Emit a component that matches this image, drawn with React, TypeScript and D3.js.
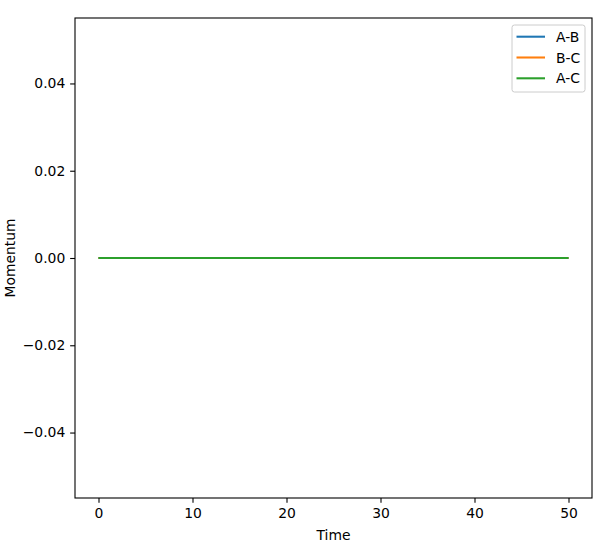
// App.tsx
import * as d3 from "d3";
import { useEffect, useRef } from "react";

const time = [0, 10, 20, 30, 40, 50];
const momentumAB = [0, 0, 0, 0, 0, 0];
const momentumBC = [0, 0, 0, 0, 0, 0];
const momentumAC = [0, 0, 0, 0, 0, 0];
const seriesNames = ["A-B", "B-C", "A-C"];
const xTicks = [0, 10, 20, 30, 40, 50];
const yTicks = [-0.04, -0.02, 0, 0.02, 0.04];

const colors = ["#1f77b4", "#ff7f0e", "#2ca02c"];
const font = "'DejaVu Sans', sans-serif";

export default function App() {
  const ref = useRef<SVGSVGElement | null>(null);

  useEffect(() => {
    const svg = d3.select(ref.current);
    svg.selectAll("*").remove();

    const W = 614;
    const H = 555;
    const margin = { top: 18, right: 22, bottom: 57, left: 75 };
    const width = W - margin.left - margin.right;
    const height = H - margin.top - margin.bottom;
    const tick = 4.86;
    const fs = 13.9;

    svg.attr("width", W).attr("height", H);
    svg.append("rect").attr("width", W).attr("height", H).attr("fill", "white");

    const g = svg.append("g").attr("transform", `translate(${margin.left},${margin.top})`);

    const x = d3.scaleLinear().domain([-2.5, 52.5]).range([0, width]);
    const y = d3.scaleLinear().domain([-0.055, 0.055]).range([height, 0]);

    const xAxis = d3
      .axisBottom(x)
      .tickValues(xTicks)
      .tickSizeInner(tick)
      .tickSizeOuter(0)
      .tickPadding(tick)
      .tickFormat((d) => d3.format("d")(d as number));
    const yAxis = d3
      .axisLeft(y)
      .tickValues(yTicks)
      .tickSizeInner(tick)
      .tickSizeOuter(0)
      .tickPadding(tick)
      .tickFormat((d) => d3.format(".2f")(d as number).replace("-", "\u2212"));

    const gx = g.append("g").attr("transform", `translate(0,${height})`).call(xAxis);
    const gy = g.append("g").call(yAxis);
    [gx, gy].forEach((ax) => {
      ax.select(".domain").remove();
      ax.selectAll("line").attr("stroke", "black").attr("stroke-width", 1.1);
      ax.selectAll("text")
        .attr("fill", "black")
        .style("font-family", font)
        .style("font-size", `${fs}px`);
    });

    const series = [momentumAB, momentumBC, momentumAC];
    const line = d3
      .line<number>()
      .x((_, i) => x(time[i]))
      .y((d) => y(d));

    series.forEach((vals, i) => {
      g.append("path")
        .datum(vals)
        .attr("fill", "none")
        .attr("stroke", colors[i])
        .attr("stroke-width", 2.08)
        .attr("d", line);
    });

    // frame
    g.append("rect")
      .attr("width", width)
      .attr("height", height)
      .attr("fill", "none")
      .attr("stroke", "black")
      .attr("stroke-width", 1.1);

    // axis labels
    svg
      .append("text")
      .attr("x", margin.left + width / 2)
      .attr("y", 540)
      .attr("text-anchor", "middle")
      .style("font-family", font)
      .style("font-size", `${fs}px`)
      .text("Time");
    svg
      .append("text")
      .attr("transform", `translate(14.5,${margin.top + height / 2}) rotate(-90)`)
      .attr("text-anchor", "middle")
      .style("font-family", font)
      .style("font-size", `${fs}px`)
      .text("Momentum");

    // legend
    const leg = svg.append("g").attr("transform", "translate(512,25)");
    leg
      .append("rect")
      .attr("width", 73)
      .attr("height", 67)
      .attr("rx", 2.5)
      .attr("fill", "white")
      .attr("fill-opacity", 0.8)
      .attr("stroke", "#cccccc")
      .attr("stroke-width", 1);
    seriesNames.forEach((name, i) => {
      const yy = 11.7 + i * 20.8;
      leg
        .append("line")
        .attr("x1", 4.5)
        .attr("x2", 33)
        .attr("y1", yy)
        .attr("y2", yy)
        .attr("stroke", colors[i])
        .attr("stroke-width", 2.08);
      leg
        .append("text")
        .attr("x", 44)
        .attr("y", yy)
        .attr("dy", "0.36em")
        .style("font-family", font)
        .style("font-size", `${fs}px`)
        .text(name);
    });
  }, []);

  return <svg ref={ref} style={{ position: "absolute", left: 0, top: 0 }}></svg>;
}
